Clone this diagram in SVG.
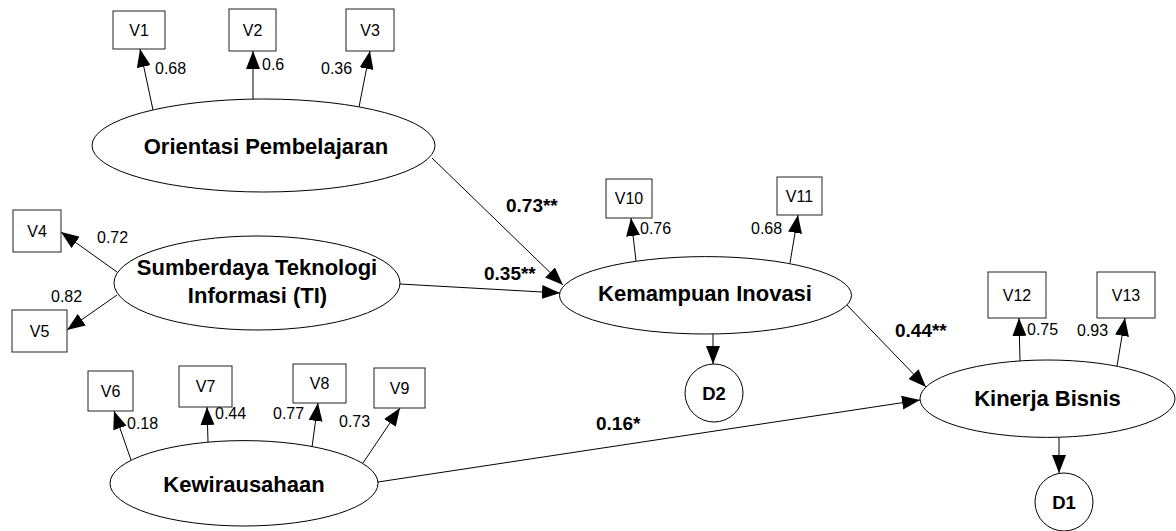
<svg xmlns="http://www.w3.org/2000/svg" width="1176" height="531" viewBox="0 0 1176 531">
<style>
text{font-family:"Liberation Sans",Arial,sans-serif;fill:#000}
.box{fill:#fff;stroke:#222;stroke-width:1}
.lat{fill:#fff;stroke:#000;stroke-width:1}
.vt{font-size:16px;text-anchor:middle}
.nt{font-size:22px;font-weight:bold;text-anchor:middle}
.dt{font-size:18.5px;font-weight:bold;text-anchor:middle}
.lb{font-size:16px}
.pb{font-size:19px;font-weight:bold}
.c{stroke:#000;stroke-width:1;fill:none;marker-end:url(#ah)}
</style>
<defs>
<marker id="ah" markerUnits="userSpaceOnUse" markerWidth="18" markerHeight="14" refX="18" refY="7" orient="auto">
<path d="M0,0 L18,7 L0,14 z" fill="#000"/>
</marker>
</defs>
<rect width="1176" height="531" fill="#fff"/>
<g id="connectors">
<line class="c" x1="153" y1="110" x2="140" y2="49"/>
<line class="c" x1="253" y1="99" x2="253" y2="51"/>
<line class="c" x1="359" y1="107" x2="370" y2="51"/>
<line class="c" x1="117" y1="272" x2="61" y2="232"/>
<line class="c" x1="117" y1="295" x2="67" y2="330"/>
<line class="c" x1="131" y1="460" x2="114" y2="411"/>
<line class="c" x1="208" y1="442" x2="207" y2="407"/>
<line class="c" x1="312" y1="447" x2="318" y2="403"/>
<line class="c" x1="363" y1="463" x2="400" y2="408"/>
<line class="c" x1="636" y1="261" x2="631" y2="218"/>
<line class="c" x1="790" y1="263" x2="798" y2="215"/>
<line class="c" x1="1020" y1="361" x2="1019" y2="318"/>
<line class="c" x1="1117" y1="366" x2="1125" y2="318"/>
<line class="c" x1="432" y1="158" x2="563" y2="285"/>
<line class="c" x1="400" y1="284" x2="560" y2="293"/>
<line class="c" x1="846" y1="304" x2="926" y2="387"/>
<line class="c" x1="378" y1="482" x2="920" y2="400"/>
<line class="c" x1="713" y1="334" x2="713" y2="364"/>
<line class="c" x1="1059" y1="437" x2="1059" y2="473"/>
</g>
<g id="loadings">
<text class="lb" x="155" y="74">0.68</text>
<text class="lb" x="262" y="70">0.6</text>
<text class="lb" x="321" y="74">0.36</text>
<text class="lb" x="97" y="243">0.72</text>
<text class="lb" x="51" y="302">0.82</text>
<text class="lb" x="127" y="429">0.18</text>
<text class="lb" x="215" y="419">0.44</text>
<text class="lb" x="273" y="419">0.77</text>
<text class="lb" x="339" y="427">0.73</text>
<text class="lb" x="640" y="234">0.76</text>
<text class="lb" x="751" y="234">0.68</text>
<text class="lb" x="1027" y="335">0.75</text>
<text class="lb" x="1077" y="336">0.93</text>
<text class="pb" x="506" y="212">0.73**</text>
<text class="pb" x="484" y="280">0.35**</text>
<text class="pb" x="895" y="337">0.44**</text>
<text class="pb" x="596" y="430">0.16*</text>
</g>
<g id="V1"><rect class="box" x="113" y="11" width="52" height="38"/><text class="vt" x="139" y="36">V1</text></g>
<g id="V2"><rect class="box" x="229" y="9" width="47" height="42"/><text class="vt" x="252.5" y="36">V2</text></g>
<g id="V3"><rect class="box" x="346" y="9" width="48" height="42"/><text class="vt" x="370" y="36">V3</text></g>
<g id="V4"><rect class="box" x="13" y="210" width="48" height="42"/><text class="vt" x="37" y="237">V4</text></g>
<g id="V5"><rect class="box" x="12" y="310" width="55" height="42"/><text class="vt" x="39.5" y="337">V5</text></g>
<g id="V6"><rect class="box" x="88" y="371" width="45" height="40"/><text class="vt" x="110.5" y="397">V6</text></g>
<g id="V7"><rect class="box" x="179" y="366" width="53" height="41"/><text class="vt" x="205.5" y="392">V7</text></g>
<g id="V8"><rect class="box" x="293" y="364" width="53" height="39"/><text class="vt" x="319.5" y="389">V8</text></g>
<g id="V9"><rect class="box" x="374" y="368" width="51" height="40"/><text class="vt" x="399.5" y="394">V9</text></g>
<g id="V10"><rect class="box" x="606" y="179" width="46" height="39"/><text class="vt" x="629" y="204">V10</text></g>
<g id="V11"><rect class="box" x="777" y="177" width="45" height="38"/><text class="vt" x="799.5" y="202">V11</text></g>
<g id="V12"><rect class="box" x="988" y="272" width="58" height="46"/><text class="vt" x="1017" y="301">V12</text></g>
<g id="V13"><rect class="box" x="1097" y="272" width="58" height="46"/><text class="vt" x="1126" y="301">V13</text></g>
<g id="OrientasiPembelajaran"><ellipse class="lat" cx="263.5" cy="145.5" rx="171.5" ry="46.5"/><text class="nt" x="266" y="154">Orientasi Pembelajaran</text></g>
<g id="SumberdayaTI"><ellipse class="lat" cx="257" cy="283" rx="143" ry="47"/><text class="nt" x="257" y="275">Sumberdaya Teknologi</text><text class="nt" x="257.5" y="303">Informasi (TI)</text></g>
<g id="KemampuanInovasi"><ellipse class="lat" cx="705.5" cy="295.3" rx="146" ry="38.7"/><text class="nt" x="705" y="301">Kemampuan Inovasi</text></g>
<g id="KinerjaBisnis"><ellipse class="lat" cx="1047.5" cy="398.7" rx="127.5" ry="38.7"/><text class="nt" x="1047.5" y="406">Kinerja Bisnis</text></g>
<g id="Kewirausahaan"><ellipse class="lat" cx="244" cy="483.3" rx="134" ry="42.7"/><text class="nt" x="244" y="491.7">Kewirausahaan</text></g>
<g id="D2"><circle class="lat" cx="714" cy="393" r="29"/><text class="dt" x="714" y="400">D2</text></g>
<g id="D1"><circle class="lat" cx="1064" cy="502" r="29"/><text class="dt" x="1064" y="509">D1</text></g>
</svg>
